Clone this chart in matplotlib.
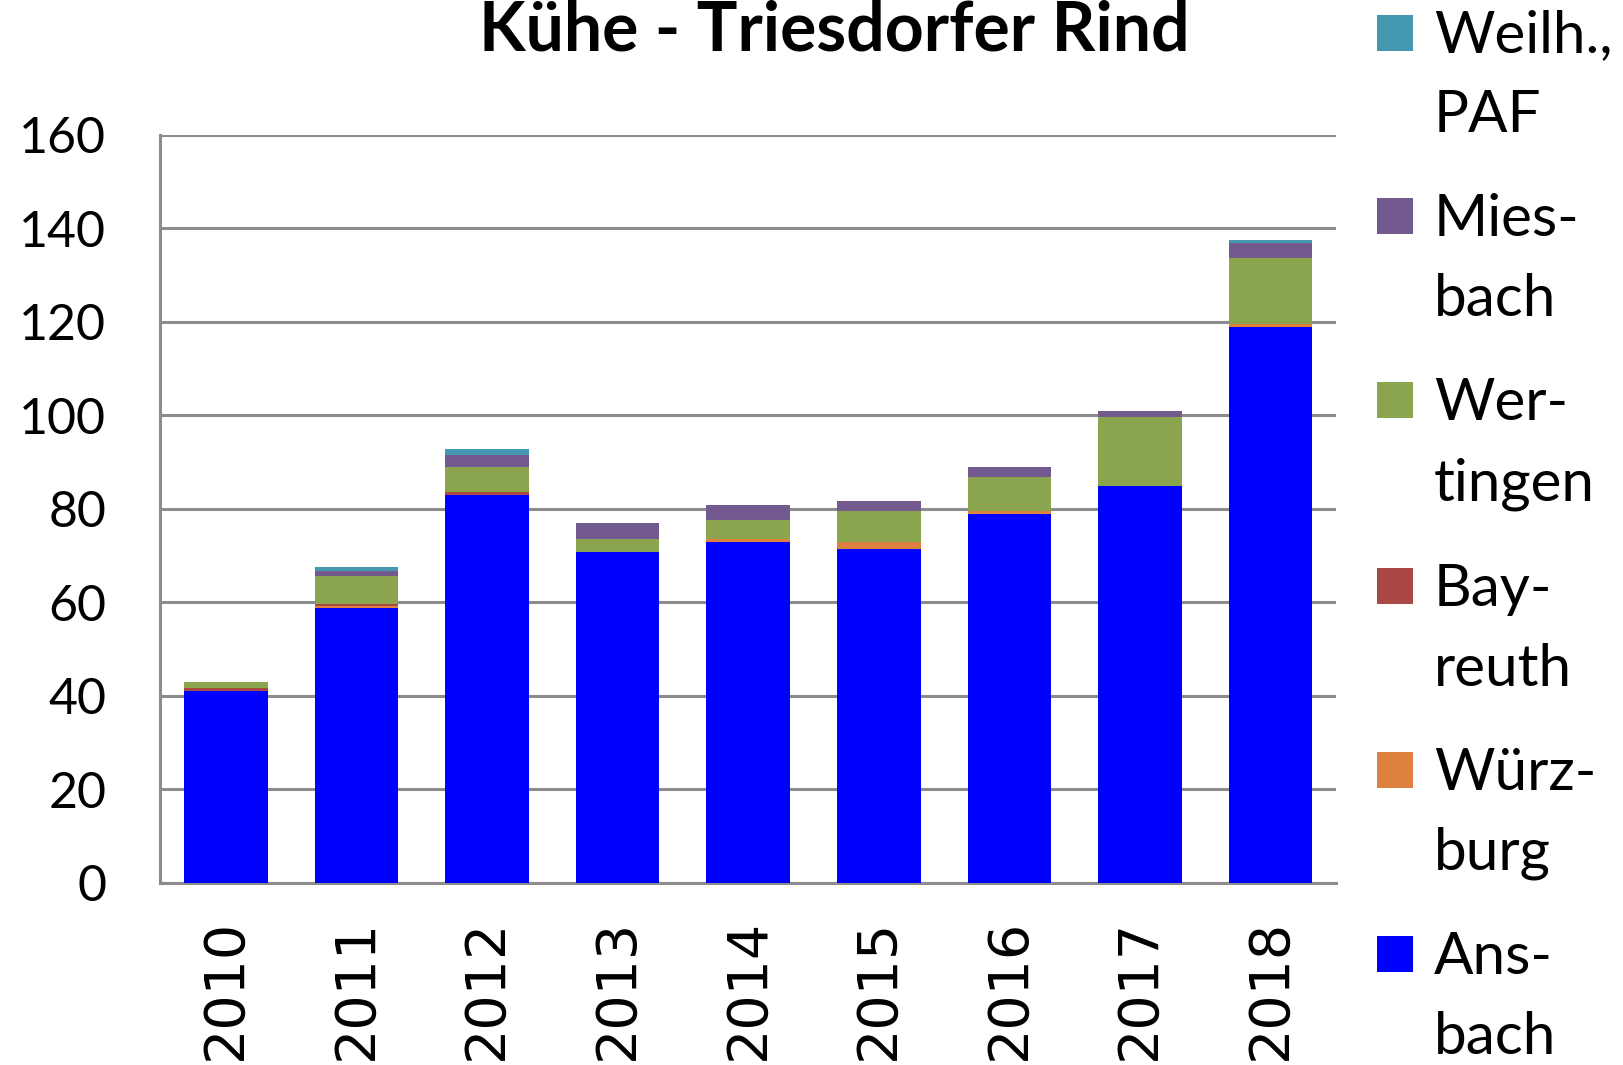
import matplotlib
matplotlib.use("Agg")
import matplotlib.pyplot as plt
import matplotlib.patches as patches
import numpy as np

# data (cows per year and origin)
years = ["2010", "2011", "2012", "2013", "2014", "2015", "2016", "2017", "2018"]
ansbach = [41.0, 58.8, 82.8, 70.8, 72.9, 71.4, 78.8, 84.8, 118.8]
wuerzburg = [0.0, 0.3, 0.0, 0.0, 0.6, 1.5, 0.7, 0.0, 0.7]
bayreuth = [0.6, 0.4, 0.7, 0.0, 0.0, 0.0, 0.0, 0.0, 0.0]
wertingen = [1.4, 6.0, 5.3, 2.6, 4.1, 6.6, 7.3, 14.7, 14.0]
miesbach = [0.0, 1.2, 2.7, 3.5, 3.2, 2.1, 2.0, 1.3, 3.4]
weilheim = [0.0, 0.8, 1.2, 0.0, 0.0, 0.0, 0.0, 0.0, 0.6]

series = [ansbach, wuerzburg, bayreuth, wertingen, miesbach, weilheim]
labels = [["Ans-", "bach"], ["Würz-", "burg"], ["Bay-", "reuth"],
          ["Wer-", "tingen"], ["Mies-", "bach"], ["Weilh.,", "PAF"]]
colors = ["#0000FF", "#DD823E", "#A94845", "#8AA54E", "#725A8F", "#4499B1"]

W, H = 1624, 1065
fig = plt.figure(figsize=(W / 100, H / 100), dpi=100)
ax = fig.add_axes([160.5 / W, 1 - 882.5 / H, (1336 - 160.5) / W, (882.5 - 134.6) / H])

x = np.arange(len(years))
bottom = np.zeros(len(years))
for vals, col in zip(series, colors):
	vals = np.array(vals)
	ax.bar(x, vals, width=0.64, bottom=bottom, color=col, zorder=3)
	bottom += vals

ax.set_xlim(-0.5, len(years) - 0.5)
ax.set_ylim(0, 160)
ax.set_yticks(np.arange(0, 161, 20))
ax.yaxis.grid(True, color="#8c8c8c", linewidth=2.2, zorder=0)
ax.set_axisbelow(True)

for s in ["top", "right"]:
	ax.spines[s].set_visible(False)
for s in ["left", "bottom"]:
	ax.spines[s].set_color("#8c8c8c")
	ax.spines[s].set_linewidth(2.2)

ax.tick_params(axis="both", length=0)
ax.tick_params(axis="y", pad=39)
ax.tick_params(axis="x", pad=26)
ax.set_yticklabels([str(v) for v in range(0, 161, 20)], fontsize=36, family="Lato")
ax.set_xticks(x)
ax.set_xticklabels(years, rotation=90, fontsize=40, family="DejaVu Sans", va="top")

fig.text(834 / W, 1 - 31 / H, "Kühe - Triesdorfer Rind", ha="center", va="center",
	fontsize=49, fontweight="bold", family="Lato")

# hand-made legend, top entry is the top of the stack
centers = [954, 770, 586, 400.5, 216, 32.5]
sq = 36
for lab, col, cy in zip(labels, colors, centers):
	fig.patches.append(patches.Rectangle(
		(1377 / W, 1 - (cy + sq / 2) / H), sq / W, sq / H,
		transform=fig.transFigure, facecolor=col, edgecolor="none"))
	for k, line in enumerate(lab):
		fig.text(1434 / W, 1 - (cy + 20 + 80 * k) / H, line, ha="left", va="baseline",
			fontsize=42, family="Lato")

fig.savefig("out.png", dpi=100)
plt.close("all")
